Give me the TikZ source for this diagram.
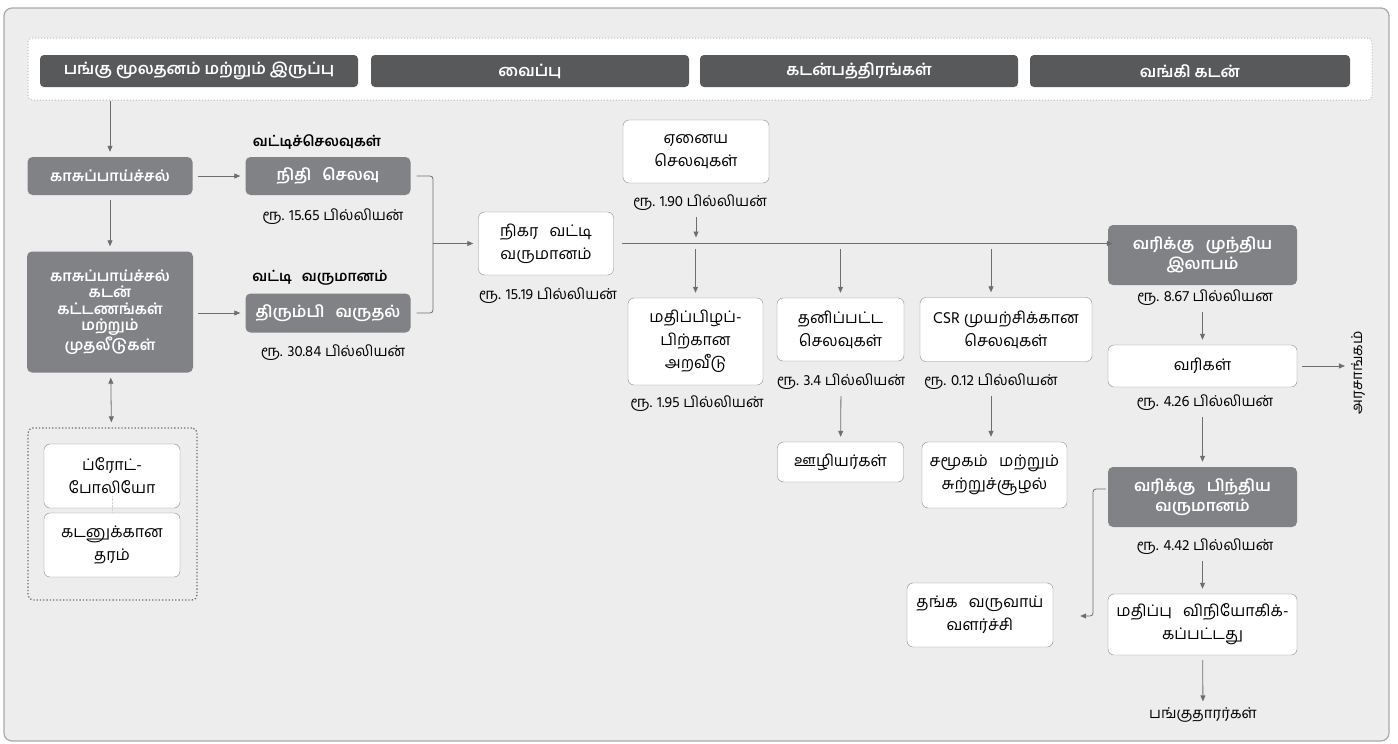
\documentclass[tikz,border=0pt]{standalone}
\usepackage{fontspec}
\setmainfont[Script=Tamil]{Hind Madurai}
\usetikzlibrary{positioning,arrows.meta,calc}
\definecolor{frame}{HTML}{A7A9AC}
\definecolor{bg}{HTML}{EDEDED}
\definecolor{dark}{HTML}{58595B}
\definecolor{mid}{HTML}{808285}
\definecolor{ln}{HTML}{6D6E71}
\newcommand{\widesp}{\spaceskip=0.7em plus 0.1em\relax}
\begin{document}
\begin{tikzpicture}[x=1pt, y=-1pt, >={Triangle[length=6pt,width=5pt]},
  font=\fontsize{16}{23}\selectfont\widesp,
  dk/.style={fill=dark, text=white, rounded corners=4pt, minimum width=318, minimum height=32, inner sep=0pt, font=\fontsize{16}{18}\selectfont\bfseries},
  md/.style={fill=mid, text=white, rounded corners=5pt, align=center, inner sep=0pt, font=\fontsize{15}{16.5}\selectfont\bfseries\widesp},
  wb/.style={draw=ln!80, fill=white, rounded corners=6pt, align=center, inner sep=0pt},
  amt/.style={inner sep=1pt, font=\fontsize{15}{18}\selectfont},
  hd/.style={font=\fontsize{14.5}{17}\selectfont\bfseries\widesp},
  ar/.style={->, draw=ln, line width=0.8pt, shorten >=5pt, shorten <=5pt}]
  \useasboundingbox (0,0) rectangle (1398,744);
  \draw[frame, fill=bg, line width=1.2pt, rounded corners=8pt] (4,8) rectangle (1389,741);
  % sources of funds
  \node[draw=gray!55, dotted, line width=1pt, fill=white, rounded corners=4pt, minimum width=1344, minimum height=62] (topc) at (700,69) {};
  \node[dk] (t1) at (199,71) {பங்கு மூலதனம் மற்றும் இருப்பு};
  \node[dk] (t2) at (530,71) {வைப்பு};
  \node[dk] (t3) at (859,71) {கடன்பத்திரங்கள்};
  \node[dk, minimum width=320] (t4) at (1190,71) {வங்கி கடன்};
  % cash flow and interest
  \node[md, minimum width=165, minimum height=38] (cash) at (110,176) {காசுப்பாய்ச்சல்};
  \node[md, minimum width=166, minimum height=121] (cashb) at (110,312) {காசுப்பாய்ச்சல்\\கடன்\\கட்டணங்கள்\\மற்றும்\\முதலீடுகள்};
  \node[md, minimum width=165, minimum height=38, font=\fontsize{16}{18}\selectfont\bfseries\widesp] (nidhi) at (328,176) {நிதி செலவு};
  \node[md, minimum width=165, minimum height=39, font=\fontsize{16}{18}\selectfont\bfseries\widesp] (thir) at (328,313) {திரும்பி வருதல்};
  \node[hd] (h1) at (317,142) {வட்டிச்செலவுகள்};
  \node[hd] (h2) at (320,278) {வட்டி வருமானம்};
  \node[amt] (a1565) at (333,217) {ரூ. 15.65 பில்லியன்};
  \node[amt] (a3084) at (333,353) {ரூ. 30.84 பில்லியன்};
  % portfolio
  \node[draw=ln, dotted, line width=1.3pt, rounded corners=5pt, minimum width=169, minimum height=172] (pc) at (112.5,514) {};
  \node[wb, minimum width=136, minimum height=64] (port) at (112,476) {ப்ரோட்-\\போலியோ};
  \node[wb, minimum width=136, minimum height=64] (kadan) at (112,545) {கடனுக்கான\\தரம்};
  \draw[gray!35, densely dotted] ([yshift=12pt]port.south) -- (kadan.north);
  % net interest income and expenses
  \node[wb, minimum width=135, minimum height=63] (nik) at (546,243.5) {நிகர வட்டி\\வருமானம்};
  \node[amt] (a1519) at (548,296) {ரூ. 15.19 பில்லியன்};
  \node[wb, minimum width=146, minimum height=63] (ena) at (696,151.5) {ஏனைய\\செலவுகள்};
  \node[amt] (a190) at (700,203) {ரூ. 1.90 பில்லியன்};
  \node[wb, minimum width=135, minimum height=87] (mat) at (695.5,341.5) {மதிப்பிழப்-\\பிற்கான\\அறவீடு};
  \node[amt] (a195) at (697,404) {ரூ. 1.95 பில்லியன்};
  \node[wb, minimum width=127, minimum height=63] (than) at (840.5,329.5) {தனிப்பட்ட\\செலவுகள்};
  \node[amt] (a34) at (841,382) {ரூ. 3.4 பில்லியன்};
  \node[wb, minimum width=126, minimum height=40] (ooz) at (840.5,462) {ஊழியர்கள்};
  \node[wb, minimum width=172, minimum height=64, font=\fontsize{16}{23}\selectfont] (csr) at (1006,329.5) {CSR முயற்சிக்கான\\செலவுகள்};
  \node[amt] (a012) at (991,382) {ரூ. 0.12 பில்லியன்};
  \node[wb, minimum width=145, minimum height=66] (samu) at (994.5,475) {சமூகம் மற்றும்\\சுற்றுச்சூழல்};
  % profit and distribution
  \node[md, minimum width=189, minimum height=60, font=\fontsize{16}{20}\selectfont\bfseries\widesp] (mun) at (1202.5,255) {வரிக்கு முந்திய\\இலாபம்};
  \node[amt] (a867) at (1205,298) {ரூ. 8.67 பில்லியன};
  \node[wb, minimum width=189, minimum height=42] (vari) at (1202.5,366) {வரிகள்};
  \node[amt, rotate=90] (govt) at (1358,373) {அரசாங்கம்};
  \node[amt] (a426) at (1205,403) {ரூ. 4.26 பில்லியன்};
  \node[md, minimum width=189, minimum height=60, font=\fontsize{16}{20}\selectfont\bfseries\widesp] (pin) at (1202.5,497) {வரிக்கு பிந்திய\\வருமானம்};
  \node[amt] (a442) at (1205,547) {ரூ. 4.42 பில்லியன்};
  \node[wb, minimum width=189, minimum height=61] (mdist) at (1202.5,624.5) {மதிப்பு விநியோகிக்-\\கப்பட்டது};
  \node[wb, minimum width=146, minimum height=64] (tha) at (980,615) {தங்க வருவாய்\\வளர்ச்சி};
  \node[amt] (share) at (1203,715) {பங்குதாரர்கள்};
  % connectors
  \draw[ar, shorten <=0pt] (topc.south -| cash) -- (cash);
  \draw[ar] (cash) -- (nidhi);
  \draw[ar] (cash) -- (cashb);
  \draw[ar] (cashb.east |- thir) -- (thir);
  \draw[ar, <->] (cashb) -- (pc);
  \coordinate (br) at (433,243.5);
  \draw[ln, line width=0.8pt, rounded corners=3pt] ([xshift=6pt]nidhi.east) -| (br) |- ([xshift=6pt]thir.east);
  \draw[ar, shorten <=0pt] (br) -- (nik);
  \draw[ar, shorten >=-5pt, shorten <=8pt] (nik.east) -- (nik.east -| mun.west);
  \draw[ar, shorten >=6pt] (ena.south |- a190.south) -- (ena.south |- nik.east);
  \draw[ar] (mat.north |- nik.east) -- (mat.north);
  \draw[ar] (than.north |- nik.east) -- (than.north);
  \draw[ar] (a012 |- nik.east) -- (a012 |- csr.north);
  \draw[ar] (a34) -- (ooz);
  \draw[ar] (a012) -- (a012 |- samu.north);
  \draw[ar] (mun.south |- a867.south) -- (vari);
  \draw[ar] (vari.east) -- (vari.east -| govt.north);
  \draw[ar] (vari.south |- a426.south) -- (pin);
  \draw[ar] (pin.south |- a442.south) -- (mdist);
  \draw[ar] (mdist) -- (share);
  \coordinate (tg) at (1093,616);
  \draw[ar, rounded corners=3pt, shorten <=2pt, shorten >=27pt] ([yshift=8pt]pin.west) -| (tg) -- (tg -| tha.east);
\end{tikzpicture}
\end{document}
